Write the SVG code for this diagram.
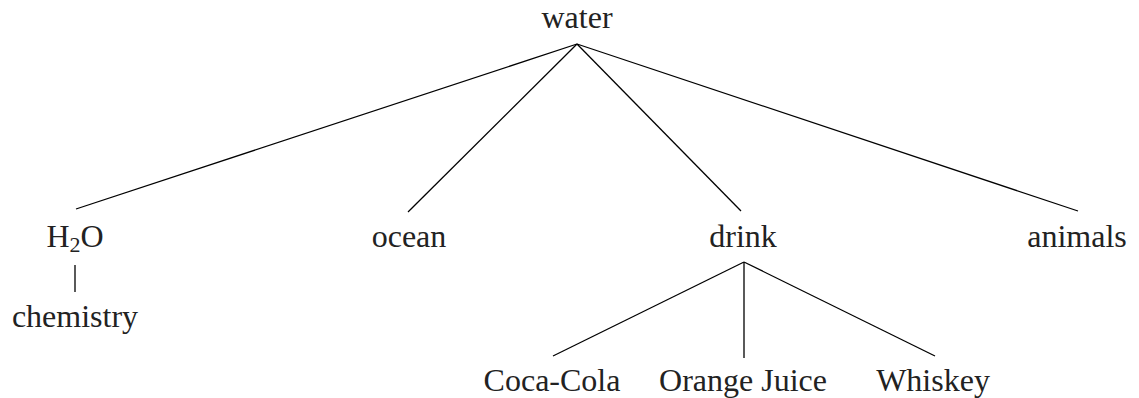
<svg xmlns="http://www.w3.org/2000/svg" width="1139" height="398" viewBox="0 0 1139 398">
<style>
text{font-family:'Liberation Serif','Times New Roman',Times,serif;font-size:32px;fill:#222;text-anchor:middle}
.e{stroke:#000;stroke-width:1.3;fill:none}
</style>
<rect width="1139" height="398" fill="#fff"/>
<g id="connectors" class="e">
<line x1="577" y1="44" x2="76" y2="209"/>
<line x1="577" y1="44" x2="408" y2="212"/>
<line x1="577" y1="44" x2="741" y2="211"/>
<line x1="577" y1="44" x2="1078" y2="211"/>
<line x1="75" y1="265" x2="75" y2="292"/>
<line x1="744" y1="262" x2="553" y2="356"/>
<line x1="744" y1="262" x2="744" y2="358"/>
<line x1="744" y1="262" x2="935" y2="356"/>
</g>
<g id="water"><text x="577" y="28">water</text></g>
<g id="h2o"><text x="75" y="247">H<tspan font-size="22" dy="5">2</tspan><tspan dy="-5">O</tspan></text></g>
<g id="ocean"><text x="409" y="247">ocean</text></g>
<g id="drink"><text x="743" y="247">drink</text></g>
<g id="animals"><text x="1077" y="247">animals</text></g>
<g id="chemistry"><text x="75" y="327">chemistry</text></g>
<g id="cocacola"><text x="552" y="391">Coca-Cola</text></g>
<g id="orangejuice"><text x="743" y="391">Orange Juice</text></g>
<g id="whiskey"><text x="933" y="391">Whiskey</text></g>
</svg>
